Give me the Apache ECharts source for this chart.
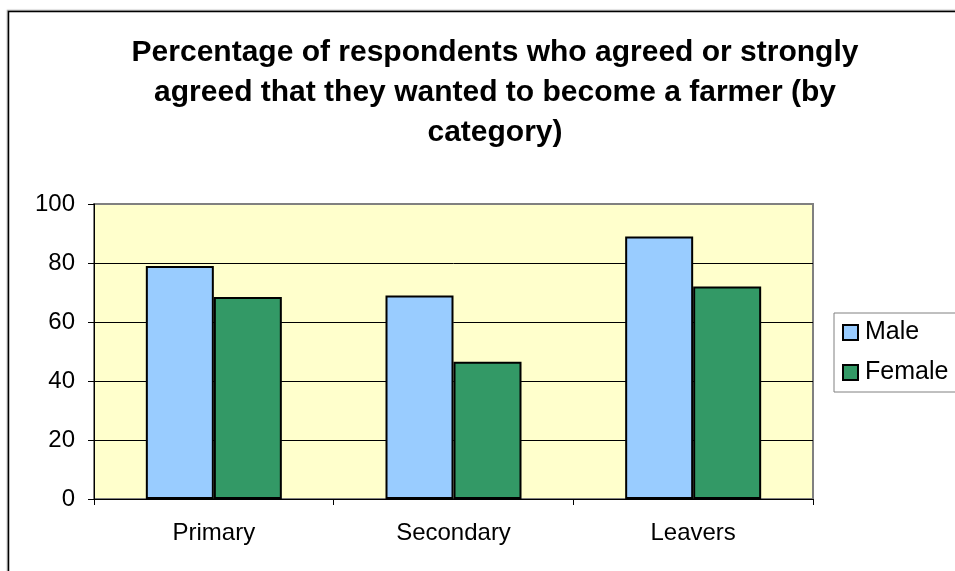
<!DOCTYPE html>
<html>
<head>
<meta charset="utf-8">
<script src="https://cdn.jsdelivr.net/npm/echarts@6/dist/echarts.min.js"></script>
<style>
  html, body { margin: 0; padding: 0; background: #fff; }
  #chart { width: 955px; height: 571px; }
</style>
</head>
<body>
<div id="chart"></div>
<script>
// Survey categories and the share of each group agreeing (percent)
const categories = ['Primary', 'Secondary', 'Leavers'];
const maleValues = [79, 69, 89];
const femaleValues = [68.5, 46.5, 72];
const yTicks = { min: 0, max: 100, step: 20 };

const chartTitle = 'Percentage of respondents who agreed or strongly\nagreed that they wanted to become a farmer (by\ncategory)';
const FONT = 'Arial, "Liberation Sans", sans-serif';

const chart = echarts.init(document.getElementById('chart'), null, { renderer: 'canvas' });

chart.setOption({
  backgroundColor: '#ffffff',
  animation: false,
  title: {
    text: chartTitle,
    left: 490,
    top: 28,
    textAlign: 'center',
    textStyle: {
      fontFamily: FONT,
      fontSize: 30,
      fontWeight: 'bold',
      color: '#000',
      lineHeight: 40
    }
  },
  graphic: [
    {
      // outer chart frame
      type: 'rect',
      silent: true,
      z: -1,
      shape: { x: 8.5, y: 11.5, width: 2000, height: 2000 },
      style: { fill: null, stroke: '#000', lineWidth: 1.5, shadowColor: 'rgba(0,0,0,0.35)', shadowOffsetX: -1, shadowOffsetY: -1, shadowBlur: 1 }
    }
  ],
  legend: {
    orient: 'vertical',
    left: 834,
    top: 313,
    padding: [7, 10, 7, 8],
    itemGap: 15,
    itemWidth: 15,
    itemHeight: 15,
    icon: 'rect',
    borderColor: '#808080',
    borderWidth: 1,
    backgroundColor: '#fff',
    textStyle: { fontFamily: FONT, fontSize: 25, color: '#000', lineHeight: 24, padding: [0, 0, 0, 2] },
    itemStyle: { borderColor: '#000', borderWidth: 2 },
    data: ['Male', 'Female']
  },
  grid: {
    left: 94,
    top: 204,
    width: 719,
    height: 295,
    show: true,
    backgroundColor: '#FFFFCC',
    borderColor: '#808080',
    borderWidth: 2
  },
  xAxis: {
    type: 'category',
    data: categories,
    axisLine: { show: true, lineStyle: { color: '#000', width: 1 } },
    axisTick: { show: true, alignWithLabel: false, length: 6, lineStyle: { color: '#000' } },
    axisLabel: { fontFamily: FONT, fontSize: 24, color: '#000', margin: 22 },
    splitLine: { show: false }
  },
  yAxis: {
    type: 'value',
    min: yTicks.min,
    max: yTicks.max,
    interval: yTicks.step,
    axisLine: { show: true, lineStyle: { color: '#000', width: 1 } },
    axisTick: { show: true, length: 6, lineStyle: { color: '#000' } },
    axisLabel: { fontFamily: FONT, fontSize: 24, color: '#000', margin: 19 },
    splitLine: { show: true, lineStyle: { color: ['#000', '#000', '#000', '#000', '#000', '#808080'], width: 1 } }
  },
  series: [
    {
      name: 'Male',
      type: 'bar',
      data: maleValues,
      barWidth: 68,
      barGap: '0%',
      itemStyle: { color: '#99CCFF', borderColor: '#000', borderWidth: 2 }
    },
    {
      name: 'Female',
      type: 'bar',
      data: femaleValues,
      barWidth: 68,
      barGap: '0%',
      itemStyle: { color: '#339966', borderColor: '#000', borderWidth: 2 }
    }
  ]
});
</script>
</body>
</html>
